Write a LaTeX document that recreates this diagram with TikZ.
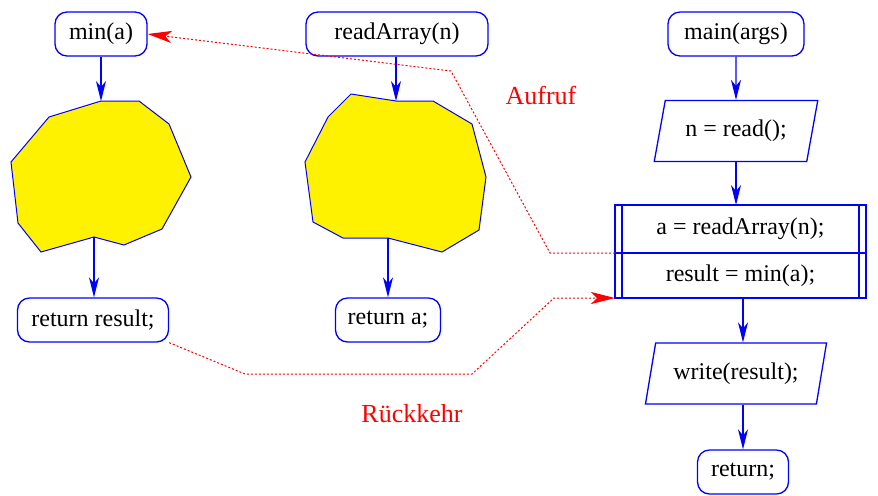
\documentclass[tikz,border=0pt]{standalone}
\usepackage{fontspec}
\setmainfont{Liberation Serif}
\usetikzlibrary{arrows.meta,shapes.geometric}

\begin{document}
\begin{tikzpicture}[x=0.5pt,y=-0.5pt,font=\fontsize{12}{14}\selectfont,
 term/.style={draw=blue,line width=0.65pt,rounded corners=6pt,minimum height=22pt,inner sep=0pt},
 io/.style={draw=blue,line width=0.65pt,trapezium,trapezium left angle=70,trapezium right angle=110,
   trapezium stretches=true,minimum height=30.5pt,inner sep=0pt},
 call/.style={draw=blue,line width=0.65pt,rectangle,minimum width=125.5pt,inner sep=0pt,outer sep=0pt},
 blob/.style={draw=blue,line width=0.5pt,fill=yellow},
 flow/.style={blue,line width=0.65pt,-{Stealth[length=10pt,width=5pt,inset=3pt]}},
 jump/.style={red,line width=0.5pt,dash pattern=on 1pt off 1pt,-{Stealth[length=12pt,width=6pt,inset=3pt]}},
 lab/.style={red,font=\fontsize{13}{15}\selectfont}]
\useasboundingbox (0,0) rectangle (878,495);
% functions min and readArray
\node[term,minimum width=46pt] (min) at (101,34) {min(a)};
\node[term,minimum width=91pt] (rd) at (397,34) {readArray(n)};
\node[term,minimum width=75.5pt] (retr) at (93,320) {return result;};
\node[term,minimum width=52.5pt] (reta) at (388,320) {return a;};
\draw[blob] (101,101) -- (139,101) -- (169,124) -- (191,177) -- (162,229) -- (124,245) -- (94,237)
  -- (41,252) -- (18,223) -- (11,162) -- (49,117) -- cycle;
\draw[blob] (351,94) -- (396,101) -- (433,101) -- (472,124) -- (486,177) -- (479,230) -- (442,252)
  -- (388,238) -- (343,238) -- (313,222) -- (305,162) -- (328,117) -- cycle;
\coordinate (b1in) at (101,101); \coordinate (b1out) at (94,237);
\coordinate (b2in) at (396,101); \coordinate (b2out) at (388,238);
\draw[flow] (min.south) -- (b1in);
\draw[flow] (b1out) -- (retr.north -| b1out);
\draw[flow] (rd.south -| b2in) -- (b2in);
\draw[flow] (b2out) -- (reta.north);
% main
\node[term,minimum width=68pt] (main) at (736,34) {main(args)};
\node[io,minimum width=82pt] (read) at (736,131) {n = read();};
\node[call,minimum height=24pt] (c1) at (740.5,229) {a = readArray(n);};
\node[call,minimum height=22.5pt,anchor=north] (c2) at (c1.south) {result = min(a);};
\draw[blue,line width=0.65pt] ([xshift=3.5pt]c1.north west) -- ([xshift=3.5pt]c2.south west)
  ([xshift=-3.5pt]c1.north east) -- ([xshift=-3.5pt]c2.south east);
\node[io,minimum width=91pt] (wr) at (736,373.5) {write(result);};
\node[term,minimum width=45.5pt] (ret) at (743,472) {return;};
\draw[flow] (main.south) -- (read.north);
\draw[flow] (read.south) -- (c1.north -| read.south);
\draw[flow] (c2.south -| ret.north) -- (wr.north -| ret.north);
\draw[flow] (wr.south -| ret.north) -- (ret.north);
% call and return
\draw[jump] (c1.south west) -- (550,253) -- (451,71) -- (min.east);
\draw[jump] (retr.south east) -- (245,374) -- (472,374) -- (554,298) -- (c2.south west);
\node[lab] (auf) at (541,95) {Aufruf};
\node[lab] (rk) at (412,414) {Rückkehr};
\end{tikzpicture}
\end{document}
